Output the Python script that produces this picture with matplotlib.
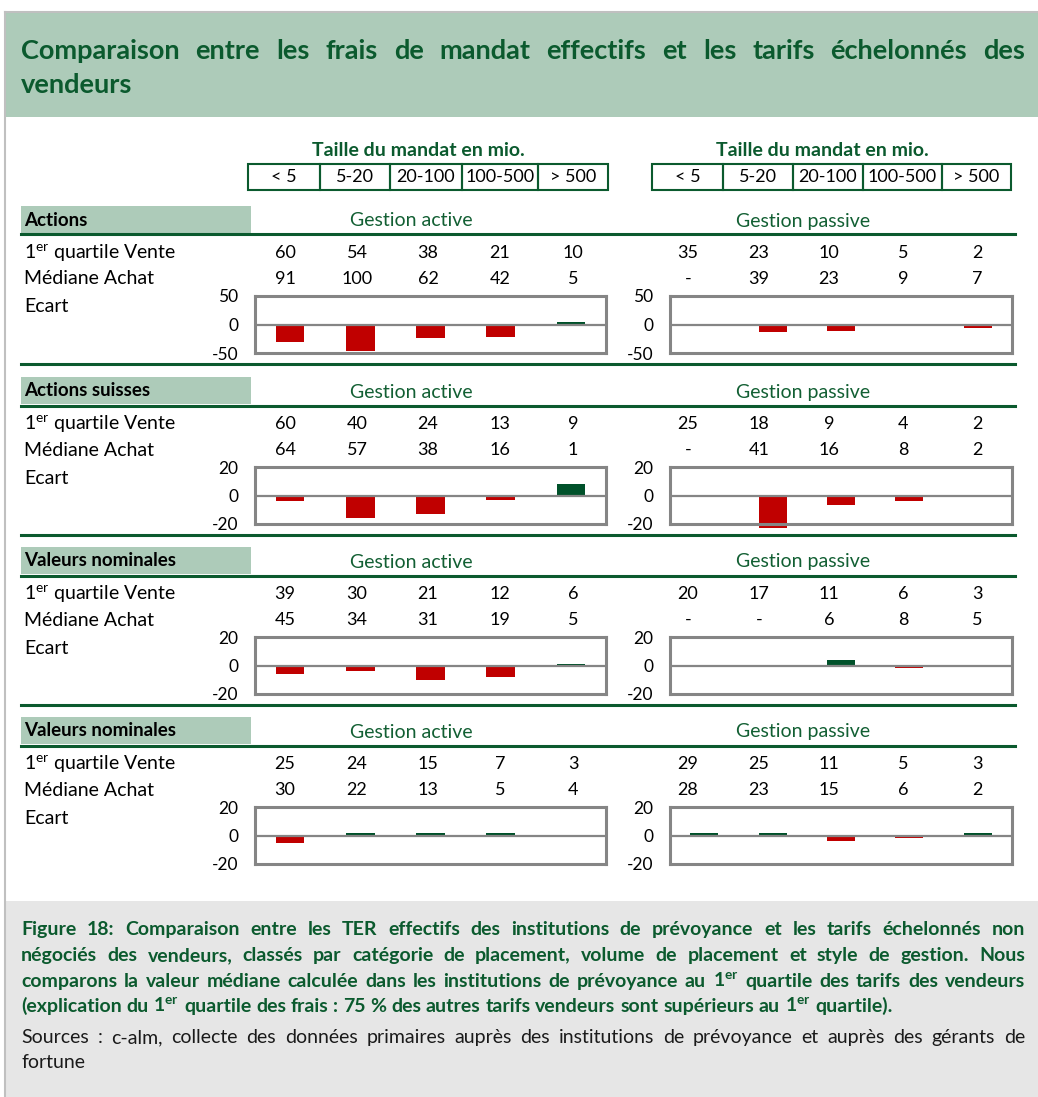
import matplotlib
matplotlib.use("Agg")
import matplotlib.pyplot as plt
from matplotlib.patches import Rectangle
from matplotlib.lines import Line2D

W, H = 1038, 1097

plt.rcParams['font.family'] = ['Lato', 'DejaVu Sans']
plt.rcParams['mathtext.fontset'] = 'custom'
plt.rcParams['mathtext.rm'] = 'Lato'
plt.rcParams['mathtext.bf'] = 'Lato:bold'

# data
size_labels = ["< 5", "5-20", "20-100", "100-500", "> 500"]
categories = ["Actions", "Actions suisses", "Valeurs nominales", "Valeurs nominales"]
row_labels = ["1$^{\\mathrm{er}}$ quartile Vente", "Médiane Achat", "Ecart"]

vente_active = [[60, 54, 38, 21, 10], [60, 40, 24, 13, 9], [39, 30, 21, 12, 6], [25, 24, 15, 7, 3]]
achat_active = [[91, 100, 62, 42, 5], [64, 57, 38, 16, 1], [45, 34, 31, 19, 5], [30, 22, 13, 5, 4]]
vente_passive = [[35, 23, 10, 5, 2], [25, 18, 9, 4, 2], [20, 17, 11, 6, 3], [29, 25, 11, 5, 3]]
achat_passive = [[None, 39, 23, 9, 7], [None, 41, 16, 8, 2], [None, None, 6, 8, 5], [28, 23, 15, 6, 2]]

ecart_active = [[-31, -46, -23, -22, 5], [-4, -16, -13, -3, 8], [-6, -4, -10, -8, 1], [-5, 2, 2, 2, -1]]
ecart_passive = [[0, -14, -11, -3, -6], [0, -23, -7, -4, 0], [0, 0, 4, -2, -1], [2, 2, -4, -1.5, 2]]
ecart_limit = [50, 20, 20, 20]

title_lines = ["Comparaison entre les frais de mandat effectifs et les tarifs échelonnés des",
               "vendeurs"]
caption_lines = [
    "Figure 18: Comparaison entre les TER effectifs des institutions de prévoyance et les tarifs échelonnés non",
    "négociés des vendeurs, classés par catégorie de placement, volume de placement et style de gestion. Nous",
    "comparons la valeur médiane calculée dans les institutions de prévoyance au 1$^{\\mathbf{er}}$ quartile des tarifs des vendeurs",
    "(explication du 1$^{\\mathbf{er}}$ quartile des frais : 75 % des autres tarifs vendeurs sont supérieurs au 1$^{\\mathbf{er}}$ quartile).",
]
source_lines = ["Sources : c-alm, collecte des données primaires auprès des institutions de prévoyance et auprès des gérants de",
                "fortune"]

# colours
GREEN_BAND = "#adcbb9"
DARK_GREEN = "#0b5a2e"
TXT_GREEN = "#125f33"
RED = "#c00000"
BAR_GREEN = "#00512a"
GREY = "#858585"

fig = plt.figure(figsize=(W / 100, H / 100), dpi=100)
renderer = fig.canvas.get_renderer()


def fx(px):
    return px / W


def fy(py):
    return 1 - py / H


def prect(x0, y0, x1, y1, **kw):
    fig.patches.append(Rectangle((fx(x0), fy(y1)), fx(x1) - fx(x0), fy(y0) - fy(y1),
                                 transform=fig.transFigure, **kw))


def pline(x0, y0, x1, y1, **kw):
    fig.add_artist(Line2D([fx(x0), fx(x1)], [fy(y0), fy(y1)], transform=fig.transFigure, **kw))


def ptext(x, y, s, **kw):
    return fig.text(fx(x), fy(y), s, **kw)


def justify(x0, x1, y, line, justified=True, **kw):
    words = line.split(" ")
    arts = [ptext(x0, y, w, va="baseline", ha="left", **kw) for w in words]
    widths = [a.get_window_extent(renderer).width for a in arts]
    sp = ptext(0, 0, "a a", **kw)
    sp2 = ptext(0, 0, "aa", **kw)
    space = sp.get_window_extent(renderer).width - sp2.get_window_extent(renderer).width
    sp.remove()
    sp2.remove()
    if justified and len(words) > 1:
        gap = (x1 - x0 - sum(widths)) / (len(words) - 1)
    else:
        gap = space
    x = x0
    for a, w in zip(arts, widths):
        a.set_x(fx(x))
        x += w + gap


# header and frame
prect(5, 12, W, 117, facecolor=GREEN_BAND, edgecolor="none")
pline(5, 12, W, 12, color="#c0c0c0", lw=1.5)
pline(5, 12, 5, H, color="#c0c0c0", lw=1.5)
prect(5, 901, W, H, facecolor="#e6e6e6", edgecolor="none")

justify(21, 1025, 59, title_lines[0], fontsize=19.5, fontweight="bold", color=DARK_GREEN)
justify(21, 1025, 93, title_lines[1], justified=False, fontsize=19.5, fontweight="bold", color=DARK_GREEN)

# size header boxes
box_edges = [[248, 320, 390, 462, 538, 608], [652, 723, 793, 863, 942, 1011]]
for edges, cx in zip(box_edges, [418, 822]):
    ptext(cx, 151, "Taille du mandat en mio.", ha="center", va="center",
          fontsize=14, fontweight="bold", color=DARK_GREEN)
    for i, lab in enumerate(size_labels):
        prect(edges[i], 164, edges[i + 1], 190, facecolor="none", edgecolor=DARK_GREEN, lw=1.5)
        ptext((edges[i] + edges[i + 1]) / 2, 177, lab, ha="center", va="center", fontsize=13)

val_x = [[285, 357, 428, 500, 573], [688, 759, 829, 903, 977]]
chart_x = [(255, 606), (670, 1012)]
section_top = [206, 377, 547, 717]


def fmt(v):
    return "-" if v is None else str(v)


for s, top in enumerate(section_top):
    prect(21, top, 251, top + 27, facecolor=GREEN_BAND, edgecolor="none")
    ptext(24, top + 14, categories[s], ha="left", va="center", fontsize=13.5, fontweight="bold")
    ptext(411, top + 15, "Gestion active", ha="center", va="center", fontsize=14, color=TXT_GREEN)
    ptext(803, top + 15, "Gestion passive", ha="center", va="center", fontsize=14, color=TXT_GREEN)
    pline(21, top + 28.5, 1015, top + 28.5, color=DARK_GREEN, lw=2.2)
    if s < 3:
        pline(21, top + 158, 1015, top + 158, color=DARK_GREEN, lw=2.2)

    rows_y = [top + 47, top + 73, top + 101]
    for lab, ry in zip(row_labels, rows_y):
        ptext(24, ry, lab, ha="left", va="center", fontsize=14)

    tables = [(vente_active[s], achat_active[s], ecart_active[s]),
              (vente_passive[s], achat_passive[s], ecart_passive[s])]
    for side, (vente, achat, ecart) in enumerate(tables):
        for j in range(5):
            ptext(val_x[side][j], rows_y[0], fmt(vente[j]), ha="center", va="center", fontsize=13)
            ptext(val_x[side][j], rows_y[1], fmt(achat[j]), ha="center", va="center", fontsize=13)

        x0, x1 = chart_x[side]
        y0, y1 = top + 90, top + 147
        ax = fig.add_axes([fx(x0), fy(y1), fx(x1) - fx(x0), fy(y0) - fy(y1)])
        lim = ecart_limit[s]
        colors = [RED if v < 0 else BAR_GREEN for v in ecart]
        ax.bar(range(5), ecart, width=0.41, color=colors, zorder=2, clip_on=False)
        ax.axhline(0, color=GREY, lw=1.6, zorder=3)
        ax.set_xlim(-0.5, 4.5)
        ax.set_ylim(-lim, lim)
        ax.set_xticks([])
        ax.set_yticks([-lim, 0, lim])
        ax.set_yticklabels([str(-lim), "0", str(lim)])
        ax.tick_params(axis="y", length=0, pad=12, labelsize=12.5)
        for sp in ax.spines.values():
            sp.set_color(GREY)
            sp.set_linewidth(2.2)
        ax.patch.set_alpha(0)

# caption
cap_y = [935, 961, 987, 1012]
for i, (line, cy) in enumerate(zip(caption_lines, cap_y)):
    justify(21, 1025, cy, line, justified=(i < 3), fontsize=14, fontweight="bold", color=DARK_GREEN)
justify(21, 1025, 1043, source_lines[0], fontsize=14, color="#1a1a1a")
justify(21, 1025, 1068, source_lines[1], justified=False, fontsize=14, color="#1a1a1a")

fig.savefig("out.png", dpi=100)
